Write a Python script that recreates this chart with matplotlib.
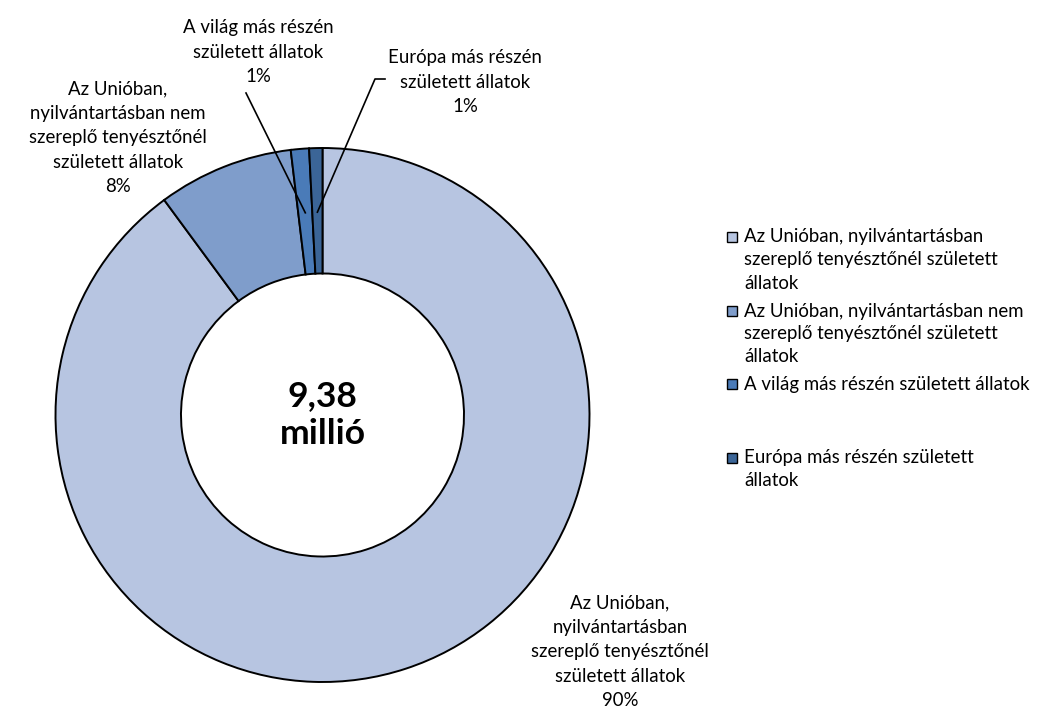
import matplotlib
matplotlib.use("Agg")
import matplotlib.pyplot as plt
from matplotlib.patches import Rectangle
import numpy as np

plt.rcParams['font.family'] = ['Lato', 'DejaVu Sans']

# Shares of animals by place of birth (percent of 9.38 million)
categories = [
    "Az Unióban, nyilvántartásban szereplő tenyésztőnél született állatok",
    "Az Unióban, nyilvántartásban nem szereplő tenyésztőnél született állatok",
    "A világ más részén született állatok",
    "Európa más részén született állatok",
]
shares = [89.9, 8.2, 1.1, 0.8]
total_text = "9,38\nmillió"

slice_labels = [
    ["Az Unióban,", "nyilvántartásban", "szereplő tenyésztőnél", "született állatok"],
    ["Az Unióban,", "nyilvántartásban nem", "szereplő tenyésztőnél", "született állatok"],
    ["A világ más részén", "született állatok"],
    ["Európa más részén", "született állatok"],
]
legend_labels = [
    ["Az Unióban, nyilvántartásban", "szereplő tenyésztőnél született", "állatok"],
    ["Az Unióban, nyilvántartásban nem", "szereplő tenyésztőnél született", "állatok"],
    ["A világ más részén született állatok"],
    ["Európa más részén született", "állatok"],
]
colors = ["#B7C5E1", "#7F9DCB", "#4A7BB8", "#3B6597"]

W, H = 1046, 709
fig = plt.figure(figsize=(W / 100, H / 100), dpi=100)

# donut placement in pixels
cx, cy, R = 322.5, 415.0, 267.0
ax = fig.add_axes([(cx - R) / W, (H - cy - R) / H, 2 * R / W, 2 * R / H])

wedges, _ = ax.pie(
    shares, colors=colors, startangle=90, counterclock=False, radius=1.0,
    wedgeprops=dict(width=0.47, edgecolor='black', linewidth=1.4),
)
ax.set_xlim(-1, 1)
ax.set_ylim(-1, 1)
ax.set_aspect('equal')
ax.axis('off')

ax.text(0, 0.0, total_text, ha='center', va='center', fontsize=25.5,
        fontweight='bold', linespacing=1.2)


def fig_xy(px, py):
    return px / W, 1 - py / H


def to_data(px, py):
    return (px - cx) / R, (cy - py) / R


fs = 13.4

# slice labels, one line at a time (centre x, centre y of the block)
label_pos = [(620, 652), (118, 138), (258, 52), (465, 82)]
line_gap = 24.5
for i, (lines, (px, py)) in enumerate(zip(slice_labels, label_pos)):
    rows = lines + [f"{round(shares[i])}%"]
    y0 = py - line_gap * (len(rows) - 1) / 2
    for j, row in enumerate(rows):
        fig.text(*fig_xy(px, y0 + j * line_gap), row, ha='center', va='center',
                 fontsize=fs)

# leader lines for the two thin slices (polyline from label to slice middle)
cum = np.cumsum([0] + shares)
leader_paths = {2: [(246, 93)], 3: [(385, 79), (375, 79)]}
for i, pts in leader_paths.items():
    mid = (cum[i] + cum[i + 1]) / 2 / 100 * 360
    theta = np.deg2rad(90 - mid)
    ex, ey = 0.76 * np.cos(theta), 0.76 * np.sin(theta)
    xs = [to_data(*p)[0] for p in pts] + [ex]
    ys = [to_data(*p)[1] for p in pts] + [ey]
    ax.plot(xs, ys, color='black', lw=1.2, clip_on=False)

# legend drawn as squares and wrapped text
legend_y = [237, 311, 384, 458]
leg_gap = 23
for lines, col, ly in zip(legend_labels, colors, legend_y):
    sx, sy = fig_xy(727, ly + 5)
    fig.patches.append(Rectangle((sx, sy), 10 / W, 10 / H, transform=fig.transFigure,
                                 facecolor=col, edgecolor='black', linewidth=1.0))
    for j, row in enumerate(lines):
        fig.text(*fig_xy(744, ly + j * leg_gap), row, ha='left', va='center',
                 fontsize=fs)

fig.savefig("out.png", dpi=100)
